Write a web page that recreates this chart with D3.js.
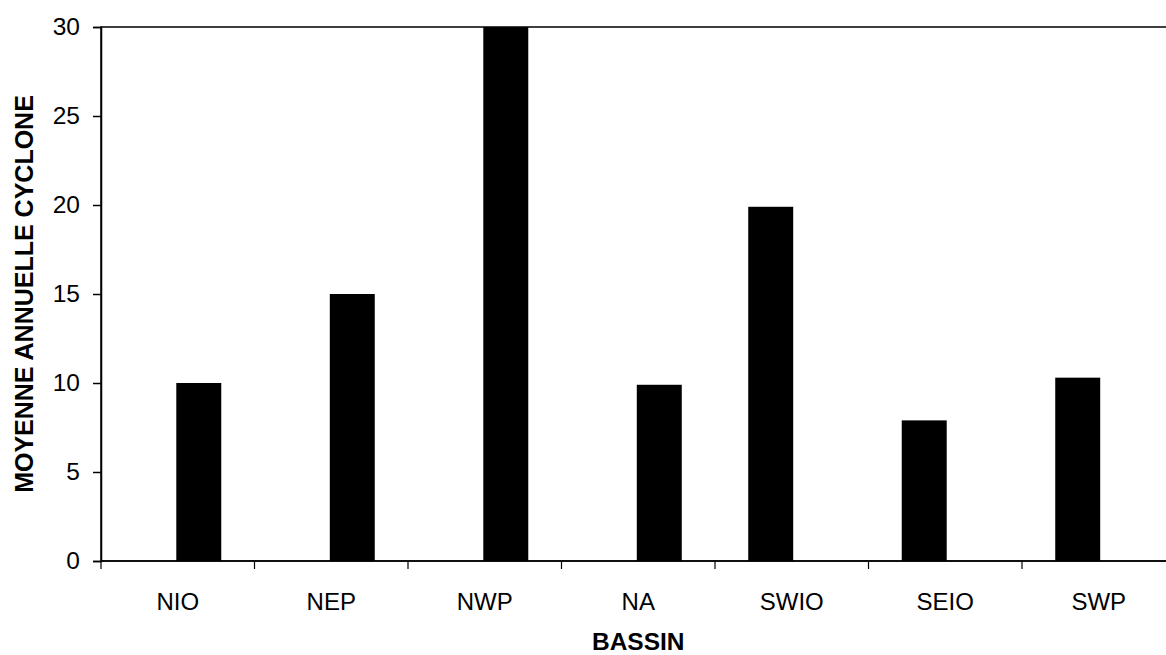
<!DOCTYPE html>
<html>
<head>
<meta charset="utf-8">
<script src="https://cdn.jsdelivr.net/npm/d3@7"></script>
<style>
  body { margin: 0; background: #fff; }
  text { font-family: Arial, "Liberation Sans", sans-serif; fill: #000; }
</style>
</head>
<body>
<svg width="1166" height="655"></svg>
<script>
// bassins et moyenne annuelle de cyclones
var basins = ["NIO", "NEP", "NWP", "NA", "SWIO", "SEIO", "SWP"];
var counts = [10, 15, 30, 9.9, 19.9, 7.9, 10.3];
var yTicks = [0, 5, 10, 15, 20, 25, 30];

var svg = d3.select("svg"),
  width = +svg.attr("width"),
  height = +svg.attr("height");

// note: "top" is window.top, so use plot* names
var plotL = 101, plotT = 27, plotB = 561;
// the plot area runs a bit past the right edge of the picture
var plotR = 1175.5;

var x = d3.scaleBand().domain(basins).range([plotL, plotR]).padding(0);
var y = d3.scaleLinear().domain([0, 30]).range([plotB, plotT]);

var bw = x.bandwidth();
var barW = bw * 0.293;

// frame
svg.append("rect")
  .attr("x", plotL)
  .attr("y", plotT)
  .attr("width", plotR - plotL)
  .attr("height", plotB - plotT)
  .attr("fill", "none")
  .attr("stroke", "#000")
  .attr("stroke-width", 1.5);

// bars (in the source they sit off-centre: the first four shifted right, the others left)
svg.append("g")
  .selectAll("rect")
  .data(basins)
  .enter()
  .append("rect")
  .attr("x", function(d, i) {
    var shift = i < 4 ? 0.137 * bw : -0.137 * bw;
    return x(d) + bw / 2 - barW / 2 + shift;
  })
  .attr("y", function(d, i) { return y(counts[i]); })
  .attr("width", barW)
  .attr("height", function(d, i) { return y(0) - y(counts[i]); })
  .attr("fill", "#000");

// y axis
var yAxis = svg.append("g")
  .attr("transform", "translate(" + plotL + ",0)")
  .call(d3.axisLeft(y).tickValues(yTicks).tickSize(8).tickPadding(13));
yAxis.select(".domain").attr("stroke-width", 1.5);
yAxis.selectAll("line").attr("stroke-width", 1.5);
yAxis.selectAll("text")
  .attr("font-size", "24.5px")
  .attr("font-family", "Arial, 'Liberation Sans', sans-serif");

// x axis: ticks on the band boundaries
var xg = svg.append("g").attr("transform", "translate(0," + plotB + ")");
xg.append("line")
  .attr("x1", plotL)
  .attr("x2", plotR)
  .attr("stroke", "#000")
  .attr("stroke-width", 1.5);
xg.selectAll(".tk")
  .data(basins)
  .enter()
  .append("line")
  .attr("class", "tk")
  .attr("x1", function(d) { return x(d); })
  .attr("x2", function(d) { return x(d); })
  .attr("y1", 0)
  .attr("y2", 8)
  .attr("stroke", "#000")
  .attr("stroke-width", 1.2);
xg.selectAll(".lbl")
  .data(basins)
  .enter()
  .append("text")
  .attr("class", "lbl")
  .attr("x", function(d) { return x(d) + bw / 2; })
  .attr("y", 49)
  .attr("text-anchor", "middle")
  .attr("font-size", "24px")
  .text(function(d) { return d; });

// axis titles
svg.append("text")
  .attr("x", (plotL + plotR) / 2)
  .attr("y", 650)
  .attr("text-anchor", "middle")
  .attr("font-size", "24.5px")
  .attr("font-weight", "bold")
  .text("BASSIN");

svg.append("text")
  .attr("transform", "translate(33," + (plotT + plotB) / 2 + ") rotate(-90)")
  .attr("text-anchor", "middle")
  .attr("font-size", "25px")
  .attr("font-weight", "bold")
  .text("MOYENNE ANNUELLE CYCLONE");
</script>
</body>
</html>
